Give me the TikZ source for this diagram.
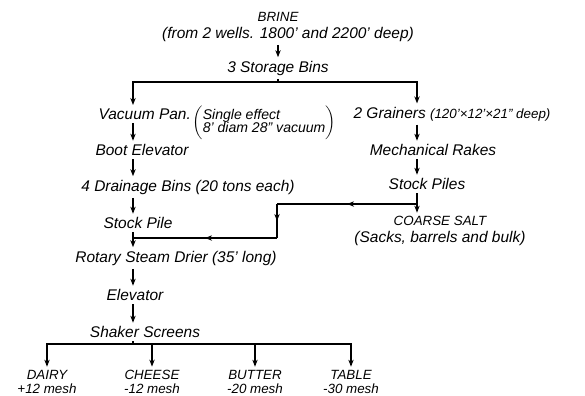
\documentclass[tikz,border=0pt]{standalone}
\usepackage{fontspec}
\setmainfont{Liberation Sans}
\usetikzlibrary{arrows.meta,decorations.markings}
\begin{document}
\begin{tikzpicture}[x=0.025cm,y=-0.025cm,line width=1.1pt,>={Stealth[length=5pt,width=3.8pt]},
	font=\fontsize{11}{12}\selectfont\itshape,inner sep=2pt]
	\tikzset{grade/.style={align=center,font=\fontsize{9.5}{10}\selectfont\itshape},
		midarrow/.style={postaction={decorate},decoration={markings,
				mark=at position .5 with {\arrow{>}}}}
	}
	\useasboundingbox (0,0) rectangle (585,395);
	% spines of the two columns
	\coordinate (spine) at (133,0);
	\coordinate (rspine) at (417,0);
	\coordinate (split) at (278,82);
	\coordinate (fork) at (417,204);
	\coordinate (bend1) at (277,204);
	\coordinate (bend2) at (277,238);
	\coordinate (join) at (133,238);
	\coordinate (bus) at (133,344);
	
	\node[inner sep=1pt] (brine) at (278,17) {\fontsize{9.5}{10}\selectfont BRINE};
	\node (wells) at (288,34) {(from 2 wells. 1800' and 2200' deep)};
	\node (bins) at (278,68) {3 Storage Bins};
	
	\node[anchor=west] (vac) at (95,114) {Vacuum Pan.};
	\node[anchor=north west,inner sep=0pt,font=\fontsize{10}{11}\selectfont\itshape] (vacnote) at ([xshift=-2pt]vac.north east)
		{$\left(\begin{tabular}{@{}l@{}}Single effect\\[-2pt]8' diam 28" vacuum\end{tabular}\right)$};
	\node (boot) at (142,150) {Boot Elevator};
	\node (drain) at (188,187) {4 Drainage Bins (20 tons each)};
	\node (pile) at (138,223) {Stock Pile};
	\node (drier) at (176,258) {Rotary Steam Drier (35' long)};
	\node (elev) at (135,295) {Elevator};
	\node (shaker) at (145,332) {Shaker Screens};
	
	\node (grain) at (452,114) {2 Grainers {\fontsize{9.5}{10}\selectfont(120'×12'×21" deep)}};
	\node (rakes) at (433,150) {Mechanical Rakes};
	\node (piles) at (427,184) {Stock Piles};
	\node[align=center] (coarse) at (440,231) {\fontsize{9.5}{10}\selectfont COARSE SALT\\(Sacks, barrels and bulk)};
	
	\node[grade] (dairy) at (47,382) {DAIRY\\+12 mesh};
	\node[grade] (cheese) at (152,382) {CHEESE\\-12 mesh};
	\node[grade] (butter) at (255,382) {BUTTER\\-20 mesh};
	\node[grade] (table) at (351,382) {TABLE\\-30 mesh};
	
	\draw[->] (wells.south-|bins) -- (bins.north);
	\draw (bins.south) -- (split);
	\draw[->] (split) -| (vac.north-|spine);
	\draw[->] (split) -| (grain.north-|rspine);
	
	\draw[->] (vac.south-|spine) -- (boot.north-|spine);
	\draw[->] (boot.south-|spine) -- (drain.north-|spine);
	\draw[->] (drain.south-|spine) -- (pile.north-|spine);
	\draw[->] (pile.south-|spine) -- (drier.north-|spine);
	\draw[->] (drier.south-|spine) -- (elev.north-|spine);
	\draw[->] (elev.south-|spine) -- (shaker.north-|spine);
	\draw (shaker.south-|spine) -- (bus);
	\foreach \g in {dairy,cheese,butter,table}
		\draw[->] (bus) -| (\g.north);
	
	\draw[->] (grain.south-|rspine) -- (rakes.north-|rspine);
	\draw[->] (rakes.south-|rspine) -- (piles.north-|rspine);
	\draw[->] (piles.south-|rspine) -- (coarse.north-|rspine);
	\draw[midarrow] (fork) -- (bend1);
	\draw[midarrow] (bend1) -- (bend2);
	\draw[midarrow] (bend2) -- (join);
\end{tikzpicture}
\end{document}
